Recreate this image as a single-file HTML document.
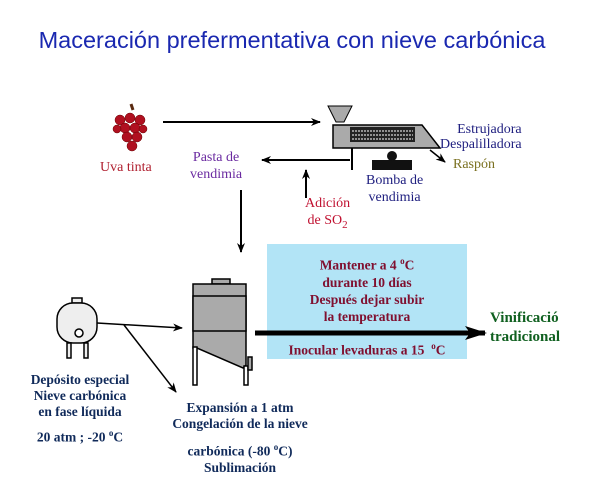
<!DOCTYPE html>
<html><head><meta charset="utf-8"><style>
body{margin:0;width:604px;height:488px;background:#fff;overflow:hidden;position:relative;font-family:"Liberation Serif",serif}
.t{position:absolute;white-space:nowrap;text-align:center}
</style></head><body>
<div class="t" style="left:0;width:584px;top:27px;font-family:'Liberation Sans',sans-serif;font-size:23.5px;color:#1a28b0">Maceración prefermentativa con nieve carbónica</div>
<svg width="604" height="488" style="position:absolute;left:0;top:0">
<defs><marker id="a" markerWidth="10" markerHeight="8" refX="9" refY="4" orient="auto" markerUnits="userSpaceOnUse"><path d="M0,0 L10,4 L0,8 L3,4z" fill="#000"/></marker>
<marker id="b" markerWidth="22" markerHeight="14" refX="20" refY="7" orient="auto" markerUnits="userSpaceOnUse"><path d="M0,0 L22,7 L0,14 L5,7z" fill="#000"/></marker></defs>
<rect x="267" y="244" width="200" height="115" fill="#b2e4f6"/>
<path d="M131,104 l2,6" stroke="#5a2a10" stroke-width="3"/>
<g fill="#b01020" stroke="#600" stroke-width=".5">
<circle cx="120" cy="120" r="5"/><circle cx="130" cy="118" r="5"/><circle cx="140" cy="120" r="5"/>
<circle cx="125" cy="128" r="5"/><circle cx="135" cy="128" r="5"/><circle cx="117" cy="129" r="4"/><circle cx="143" cy="129" r="4"/>
<circle cx="127" cy="137" r="5"/><circle cx="137" cy="137" r="5"/><circle cx="132" cy="146" r="5"/></g>
<line x1="163" y1="122" x2="320" y2="122" stroke="#000" stroke-width="2" marker-end="url(#a)"/>
<path d="M328,106 L352,106 L344,122 L336,122z" fill="#aaa" stroke="#000"/>
<path d="M333,125 L422,125 L440,148 L333,148z" fill="#aaa" stroke="#000" stroke-width="1.5"/>
<rect x="350" y="127" width="65" height="15" fill="#222"/>
<g stroke="#fff" stroke-width="1" stroke-dasharray="2 1"><line x1="352" y1="131" x2="413" y2="131"/><line x1="352" y1="135" x2="413" y2="135"/><line x1="352" y1="139" x2="413" y2="139"/></g>
<line x1="352" y1="148" x2="352" y2="170" stroke="#000" stroke-width="2"/>
<line x1="430" y1="150" x2="445" y2="162" stroke="#000" stroke-width="1.5" marker-end="url(#a)"/>
<rect x="372" y="160" width="40" height="10" fill="#111"/><circle cx="392" cy="156" r="5" fill="#111"/>
<line x1="350" y1="160" x2="262" y2="160" stroke="#000" stroke-width="2" marker-end="url(#a)"/>
<line x1="306" y1="198" x2="306" y2="170" stroke="#000" stroke-width="2" marker-end="url(#a)"/>
<line x1="241" y1="190" x2="241" y2="252" stroke="#000" stroke-width="2" marker-end="url(#a)"/>
<g stroke="#000" stroke-width="1.5" fill="#aaa">
<rect x="212" y="279" width="18" height="5"/>
<path d="M193,284 L246,284 L246,365 L243,368 L197,348 L193,348z"/>
<rect x="193" y="296" width="53" height="35"/>
<rect x="193" y="347" width="4" height="38" fill="#fff"/><rect x="244" y="366" width="4" height="19" fill="#fff"/>
<rect x="248" y="357" width="4" height="13"/></g>
<g stroke="#000" stroke-width="1.5" fill="#eee">
<rect x="72" y="298" width="10" height="5"/>
<rect x="57" y="303" width="40" height="40" rx="16"/>
<circle cx="79" cy="333" r="4" fill="#fff"/>
<rect x="67" y="343" width="4" height="15"/><rect x="84" y="343" width="4" height="15"/></g>
<line x1="97" y1="323" x2="182" y2="328" stroke="#000" stroke-width="1.5" marker-end="url(#a)"/>
<line x1="124" y1="325" x2="176" y2="392" stroke="#000" stroke-width="1.5" marker-end="url(#a)"/>
<line x1="255" y1="333" x2="485" y2="333" stroke="#000" stroke-width="5" marker-end="url(#b)"/>
</svg>
<div class="t" style="left:100px;top:160px;font-size:14px;color:#b02030">Uva tinta</div>
<div class="t" style="left:440px;top:122px;font-size:14px;line-height:15px;color:#202080;text-align:right">Estrujadora<br>Despalilladora</div>
<div class="t" style="left:453px;top:157px;font-size:14px;color:#7a7020">Raspón</div>
<div class="t" style="left:190px;top:149px;font-size:14px;line-height:17px;color:#6a2aa0">Pasta de<br>vendimia</div>
<div class="t" style="left:366px;top:172px;font-size:14px;line-height:17px;color:#202080">Bomba de<br>vendimia</div>
<div class="t" style="left:305px;top:195px;font-size:14px;line-height:17px;color:#c01030">Adición<br>de SO<sub style="font-size:11px">2</sub></div>
<div class="t" style="left:267px;width:200px;top:253px;font-size:13.5px;font-weight:bold;line-height:17px;color:#801030">Mantener a 4 <sup style="font-size:9px">o</sup>C<br>durante 10 días<br>Después dejar subir<br>la temperatura</div>
<div class="t" style="left:267px;width:200px;top:341px;font-size:13.5px;font-weight:bold;color:#801030">Inocular levaduras a 15 &nbsp;<sup style="font-size:9px">o</sup>C</div>
<div class="t" style="left:490px;top:309px;font-size:15px;font-weight:bold;line-height:19px;color:#106020;text-align:left">Vinificació<br>tradicional</div>
<div class="t" style="left:10px;width:140px;top:372px;font-size:13.5px;font-weight:bold;line-height:16px;color:#102a5a">Depósito especial<br>Nieve carbónica<br>en fase líquida</div>
<div class="t" style="left:10px;width:140px;top:428px;font-size:13.5px;font-weight:bold;color:#102a5a">20 atm ; -20 <sup style="font-size:9px">o</sup>C</div>
<div class="t" style="left:160px;width:160px;top:400px;font-size:13.5px;font-weight:bold;line-height:16px;color:#102a5a">Expansión a 1 atm<br>Congelación de la nieve</div>
<div class="t" style="left:160px;width:160px;top:439px;font-size:13.5px;font-weight:bold;line-height:16px;color:#102a5a">carbónica (-80 <sup style="font-size:9px">o</sup>C)<br>Sublimación</div>
</body></html>
